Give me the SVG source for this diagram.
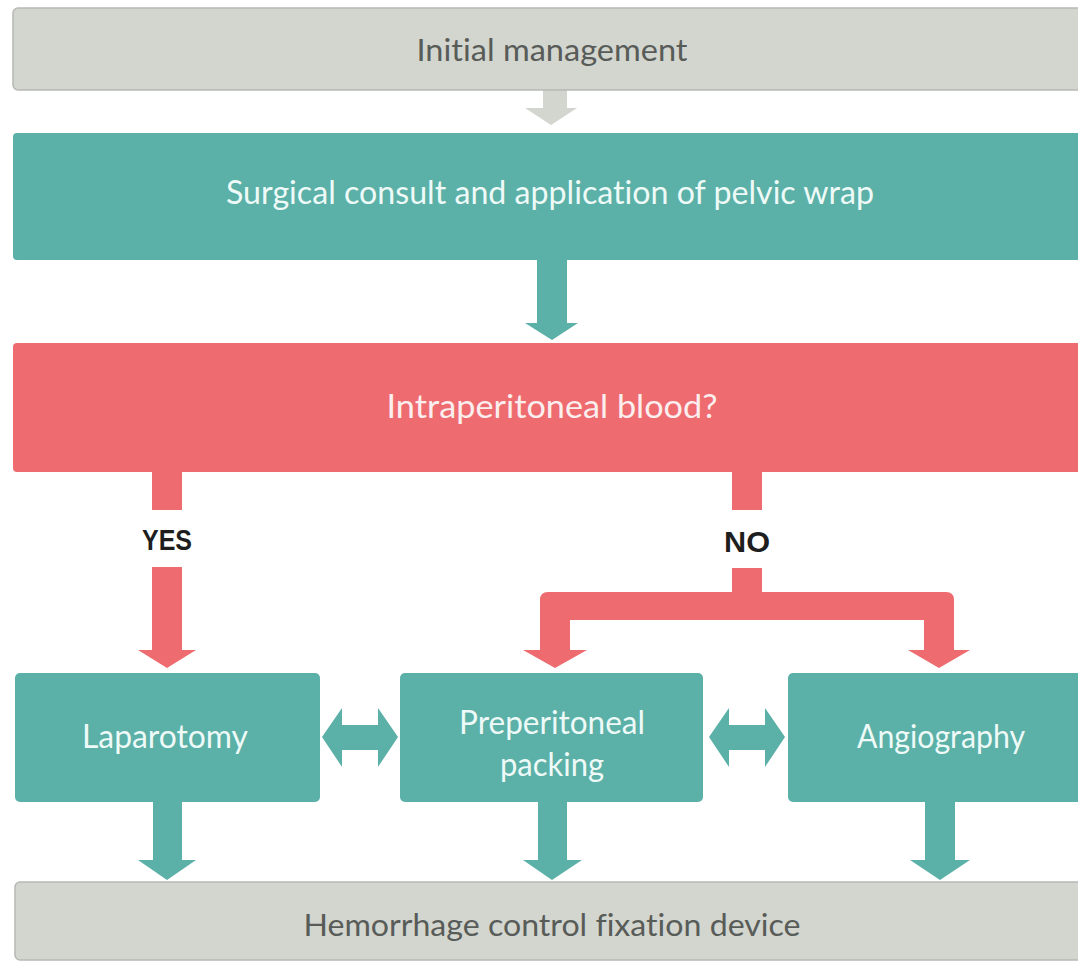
<svg xmlns="http://www.w3.org/2000/svg" width="1078" height="963" viewBox="0 0 1078 963">
  <style>
    .gray { fill: #d3d5cf; stroke: #b7b9b4; stroke-width: 1.5; }
    .teal { fill: #5bb0a7; }
    .red { fill: #ee6b70; }
    .tg { font-family: Lato, "Open Sans", sans-serif; font-size: 31px; fill: #585c58; text-anchor: middle; font-variant-ligatures: none; }
    .tw { font-family: Lato, "Open Sans", sans-serif; font-size: 32px; fill: #eefaf7; text-anchor: middle; font-variant-ligatures: none; }
    .tr { font-family: Lato, "Open Sans", sans-serif; font-size: 32px; fill: #fbeeee; text-anchor: middle; font-variant-ligatures: none; }
    .tl { font-family: "Liberation Sans", Arial, sans-serif; font-weight: bold; font-size: 30px; fill: #1e1e1e; text-anchor: middle; }
  </style>
  <rect width="1078" height="963" fill="#ffffff"/>

  <g id="connectors">
    <polygon fill="#d3d5cf" points="543,90 567,90 567,108 577,108 551,125 525,108 543,108"/>
    <polygon class="teal" points="537,260 567,260 567,323 578,323 552,340 525,323 537,323"/>
    <rect class="red" x="152" y="470" width="30" height="40"/>
    <polygon class="red" points="152,567 182,567 182,650 196,650 167,668 138,650 152,650"/>
    <rect class="red" x="732" y="470" width="30" height="40"/>
    <path class="red" d="M 732 568 L 762 568 L 762 592 L 946 592 Q 954 592 954 600 L 954 650 L 970 650 L 939 668 L 908 650 L 924 650 L 924 620 L 570 620 L 570 650 L 587 650 L 555 668 L 523 650 L 540 650 L 540 600 Q 540 592 548 592 L 732 592 Z"/>
    <polygon class="teal" points="322,737 342,708 342,725 378,725 378,708 398,737 378,767 378,750 342,750 342,767"/>
    <polygon class="teal" points="709,737 729,708 729,725 765,725 765,708 785,737 765,767 765,750 729,750 729,767"/>
    <polygon class="teal" points="153,802 182,802 182,860 196,860 167,880 138,860 153,860"/>
    <polygon class="teal" points="538,802 567,802 567,860 582,860 552,880 523,860 538,860"/>
    <polygon class="teal" points="925,802 955,802 955,860 970,860 940,880 910,860 925,860"/>
    <text class="tl" x="167" y="550" textLength="50" lengthAdjust="spacingAndGlyphs">YES</text>
    <text class="tl" x="747" y="552" textLength="46" lengthAdjust="spacingAndGlyphs">NO</text>
  </g>

  <g id="initial">
    <rect class="gray" x="13" y="8" width="1080" height="82" rx="5"/>
    <text class="tg" x="552" y="61" textLength="271" lengthAdjust="spacingAndGlyphs">Initial management</text>
  </g>
  <g id="surgical">
    <rect class="teal" x="13" y="133" width="1080" height="127" rx="4"/>
    <text class="tw" x="550" y="204" textLength="648" lengthAdjust="spacingAndGlyphs">Surgical consult and application of pelvic wrap</text>
  </g>
  <g id="intraperitoneal">
    <rect class="red" x="13" y="343" width="1080" height="129" rx="4"/>
    <text class="tr" x="552" y="418" textLength="331" lengthAdjust="spacingAndGlyphs">Intraperitoneal blood?</text>
  </g>
  <g id="laparotomy">
    <rect class="teal" x="15" y="673" width="305" height="129" rx="5"/>
    <text class="tw" x="165" y="748" textLength="166" lengthAdjust="spacingAndGlyphs">Laparotomy</text>
  </g>
  <g id="packing">
    <rect class="teal" x="400" y="673" width="303" height="129" rx="5"/>
    <text class="tw" x="552" y="734" textLength="186" lengthAdjust="spacingAndGlyphs">Preperitoneal</text>
    <text class="tw" x="552" y="776" textLength="104" lengthAdjust="spacingAndGlyphs">packing</text>
  </g>
  <g id="angiography">
    <rect class="teal" x="788" y="673" width="305" height="129" rx="5"/>
    <text class="tw" x="941" y="748" textLength="168" lengthAdjust="spacingAndGlyphs">Angiography</text>
  </g>
  <g id="hemorrhage">
    <rect class="gray" x="15" y="882" width="1080" height="78" rx="5"/>
    <text class="tg" x="552" y="936" textLength="497" lengthAdjust="spacingAndGlyphs">Hemorrhage control fixation device</text>
  </g>
</svg>
